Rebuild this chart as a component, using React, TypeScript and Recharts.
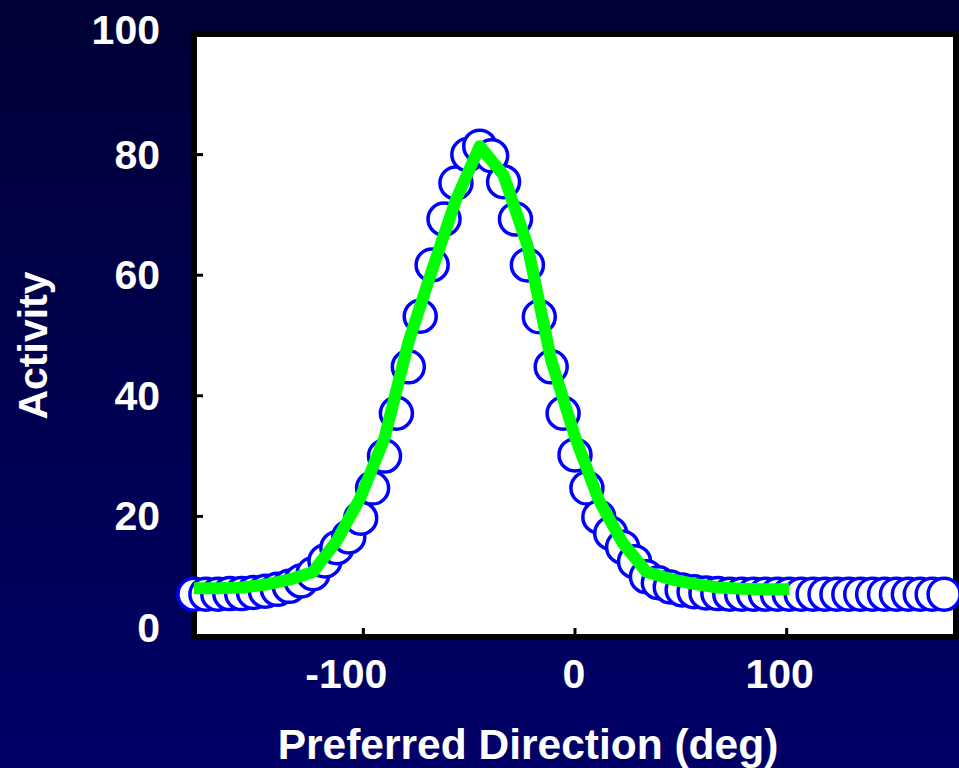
import { ComposedChart, Scatter, XAxis, YAxis, CartesianGrid } from "recharts";

// preferred directions of the cells (deg)
const prefDirs = [
  -180, -174.375, -168.75, -163.125, -157.5, -151.875, -146.25, -140.625,
  -135, -129.375, -123.75, -118.125, -112.5, -106.875, -101.25, -95.625,
  -90, -84.375, -78.75, -73.125, -67.5, -61.875, -56.25, -50.625,
  -45, -39.375, -33.75, -28.125, -22.5, -16.875, -11.25, -5.625,
  0, 5.625, 11.25, 16.875, 22.5, 28.125, 33.75, 39.375,
  45, 50.625, 56.25, 61.875, 67.5, 73.125, 78.75, 84.375,
  90, 95.625, 101.25, 106.875, 112.5, 118.125, 123.75, 129.375,
  135, 140.625, 146.25, 151.875, 157.5, 163.125, 168.75, 174.375,
];

// activity of each cell
const activity = [
  7.1, 7.1, 7.1, 7.2, 7.2, 7.4, 7.6, 7.9,
  8.4, 9.3, 10.5, 12.6, 14.8, 16.6, 19.7, 24.7,
  30.0, 37.1, 44.8, 53.2, 61.7, 69.3, 75.3, 80.0,
  81.4, 79.8, 75.5, 69.3, 61.7, 53.1, 44.8, 37.1,
  30.2, 24.7, 19.9, 17.2, 14.9, 12.5, 10.0, 9.0,
  8.3, 7.8, 7.5, 7.3, 7.2, 7.1, 7.1, 7.1,
  7.1, 7.1, 7.1, 7.1, 7.1, 7.1, 7.1, 7.1,
  7.1, 7.1, 7.1, 7.1, 7.1, 7.1, 7.1, 7.1,
];

// fitted curve (green)
const fitDirs = [
  -180, -168.75, -157.5, -146.25, -135, -123.75, -112.5, -101.25, -90,
  -78.75, -67.5, -56.25, -45, -33.75, -22.5, -11.25, 0, 11.25, 22.5,
  33.75, 45, 56.25, 67.5, 78.75, 90, 101.25,
];
const fitValues = [
  8.1, 8.1, 8.2, 8.7, 9.5, 10.8, 16.0, 23.2, 33.0,
  48.8, 60.9, 72.5, 81.4, 76.6, 65.0, 45.9, 33.2, 22.7, 15.6,
  10.8, 9.6, 8.8, 8.2, 8.0, 7.9, 7.9,
];

const xTicks = [-100, 0, 100];
const yTicks = [0, 20, 40, 60, 80, 100];

const cells = prefDirs.map((x, i) => ({ x, y: activity[i] }));
const fit = fitDirs.map((x, i) => ({ x, y: fitValues[i] }));

const FONT = "'Liberation Sans', Arial, sans-serif";
const textStyle = { fill: "#fff", fontSize: 41, fontWeight: 700, fontFamily: FONT };
const axisLine = { stroke: "#000", strokeWidth: 6, strokeLinecap: "square" as const };
const tickLine = { stroke: "#000", strokeWidth: 3 };

// small nudges so labels sit like the original slide
const xNudge: Record<number, number> = { [-100]: -17, 0: -1, 100: -7 };
const yNudge: Record<number, number> = { 0: -9, 100: -4 };

const XTick = ({ x, y, payload }: any) => (
  <text x={x + (xNudge[payload.value] ?? 0)} y={y + 29} textAnchor="middle" {...textStyle}>
    {payload.value}
  </text>
);

const YTick = ({ x, y, payload }: any) => (
  <text x={x} y={y + 14 + (yNudge[payload.value] ?? 0)} textAnchor="end" {...textStyle}>
    {payload.value}
  </text>
);

const Cell = (p: any) => (
  <circle cx={p.cx} cy={p.cy} r={16} fill="#fff" stroke="#0000ff" strokeWidth={3.5} />
);

const NoDot = () => <g />;

export default function App() {
  return (
    <div
      style={{
        position: "absolute",
        left: 0,
        top: 0,
        width: 959,
        height: 768,
        background: "linear-gradient(180deg, #000036 0%, #000068 100%)",
      }}
    >
      <ComposedChart width={959} height={768} margin={{ top: 0, right: 0, bottom: 0, left: 0 }}>
        <CartesianGrid horizontal={false} vertical={false} fill="#fff" fillOpacity={1} />
        <XAxis
          dataKey="x"
          type="number"
          domain={[-180, 180]}
          ticks={xTicks}
          interval={0}
          height={131}
          axisLine={axisLine}
          tickLine={tickLine}
          tickSize={-9}
          tickMargin={31}
          tick={<XTick />}
          label={{
            content: (p: any) => {
              const vb = p.viewBox || { x: 194, y: 637, width: 762, height: 131 };
              return (
                <text
                  x={vb.x + vb.width / 2 - 47}
                  y={vb.y + 122}
                  textAnchor="middle"
                  {...textStyle}
                  fontSize={42.5}
                >
                  Preferred Direction (deg)
                </text>
              );
            },
          }}
        />
        <XAxis
          xAxisId="top"
          orientation="top"
          dataKey="x"
          type="number"
          domain={[-180, 180]}
          ticks={xTicks}
          interval={0}
          height={34}
          axisLine={axisLine}
          tickLine={tickLine}
          tickSize={-9}
          tick={false}
        />
        <YAxis
          type="number"
          domain={[0, 100]}
          ticks={yTicks}
          interval={0}
          width={194}
          axisLine={axisLine}
          tickLine={tickLine}
          tickSize={-9}
          tickMargin={43}
          tick={<YTick />}
          label={{
            content: (p: any) => {
              const vb = p.viewBox || { x: 0, y: 34, width: 194, height: 603 };
              const cx = vb.x + 47;
              const cy = vb.y + vb.height / 2 + 10;
              return (
                <text x={cx} y={cy} textAnchor="middle" transform={`rotate(-90, ${cx}, ${cy})`} {...textStyle}>
                  Activity
                </text>
              );
            },
          }}
        />
        <YAxis
          yAxisId="right"
          orientation="right"
          type="number"
          domain={[0, 100]}
          ticks={yTicks}
          interval={0}
          width={3}
          axisLine={axisLine}
          tickLine={tickLine}
          tickSize={-9}
          tick={false}
        />
        <Scatter data={cells} dataKey="y" shape={Cell} isAnimationActive={false} />
        <Scatter
          data={fit}
          dataKey="y"
          shape={NoDot}
          line={{ stroke: "#00ff00", strokeWidth: 12, strokeLinejoin: "round" }}
          lineType="joint"
          isAnimationActive={false}
        />
      </ComposedChart>
    </div>
  );
}
